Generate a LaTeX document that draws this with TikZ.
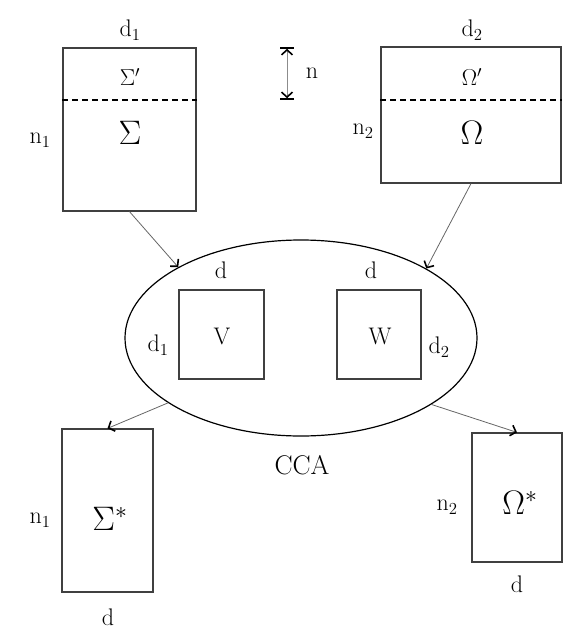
\RequirePackage{fix-cm}
\documentclass[tikz,border=0pt]{standalone}
\usetikzlibrary{shapes.geometric,arrows.meta}
\tikzstyle{mat} = [draw=black!75, line width=1.2pt, inner sep=0pt]
\tikzstyle{lbl} = [font=\fontsize{24}{28}\selectfont]
\tikzstyle{sym} = [font=\fontsize{34}{38}\selectfont]
\tikzstyle{small} = [font=\fontsize{23}{27}\selectfont]
\tikzstyle{link} = [draw=black!60, line width=0.8pt, -{Straight Barb[length=5pt, width=11pt, line width=1.6pt, black]}]
\tikzstyle{meas} = [draw=black!45, line width=0.8pt, {Bar[width=14pt, line width=1.8pt, black]Straight Barb[length=5pt, width=11pt, line width=1.6pt, black]}-{Straight Barb[length=5pt, width=11pt, line width=1.6pt, black]Bar[width=14pt, line width=1.8pt, black]}]

\begin{document}
\begin{tikzpicture}[x=1pt, y=-1pt]
  \useasboundingbox (0,0) rectangle (586,635);
  % input matrices
  \node (sig) at (129.5,129.5) [mat, minimum width=133, minimum height=163] {};
  \node (omg) at (471,115) [mat, minimum width=180, minimum height=136] {};
  \draw [line width=1.2pt, dash pattern=on 6pt off 4pt] (sig.west |- 0,100) -- (sig.east |- 0,100);
  \draw [line width=1.2pt, dash pattern=on 6pt off 4pt] (omg.west |- 0,100) -- (omg.east |- 0,100);
  \node (sigd) at (130,30) [lbl] {d$_1$};
  \node (sign) at (40,140) [lbl] {n$_1$};
  \node (sigp) at (130,77) [small] {$\Sigma'$};
  \node (sigt) at (130,133) [sym] {$\Sigma$};
  \node (omgd) at (472,30) [lbl] {d$_2$};
  \node (omgn) at (363,131) [lbl] {n$_2$};
  \node (omgp) at (472,77) [small] {$\Omega'$};
  \node (omgt) at (472,133) [sym] {$\Omega$};
  % shared rows
  \coordinate (ntop) at (287,47);
  \coordinate (nbot) at (287,100);
  \draw [meas] (ntop) -- (nbot);
  \node (nlab) at (312,73) [lbl] {n};
  % cca
  \node (cca) at (301,338) [ellipse, draw, line width=1.2pt, minimum width=352, minimum height=196, inner sep=0pt] {};
  \node (v) at (221.5,334.5) [mat, minimum width=85, minimum height=89] {};
  \node (w) at (379,334.5) [mat, minimum width=84, minimum height=89] {};
  \node (vd) at (221,270) [lbl] {d};
  \node (vn) at (158,345) [lbl] {d$_1$};
  \node (vt) at (222,336) [lbl] {V};
  \node (wd) at (371,270) [lbl] {d};
  \node (wn) at (439,347) [lbl] {d$_2$};
  \node (wt) at (380,336) [lbl] {W};
  \node (ccat) at (302,465) [font=\fontsize{27}{31}\selectfont] {CCA};
  % projected matrices
  \node (sigs) at (107.5,510.5) [mat, minimum width=91, minimum height=163] {};
  \node (omgs) at (517,497.5) [mat, minimum width=90, minimum height=129] {};
  \node (sigsn) at (40,520) [lbl] {n$_1$};
  \node (sigst) at (110,519) [sym] {$\Sigma^*$};
  \node (sigsd) at (108,617) [lbl] {d};
  \node (omgsn) at (447,507) [lbl] {n$_2$};
  \node (omgst) at (520,503) [sym] {$\Omega^*$};
  \node (omgsd) at (517,584) [lbl] {d};
  \draw [link] (sig.south) to (cca.150.6);
  \draw [link] (omg.south) to (cca.29.4);
  \draw [link] (cca.206.4) to (sigs.north);
  \draw [link] (cca.333.4) to (omgs.north);
\end{tikzpicture}
\end{document}
